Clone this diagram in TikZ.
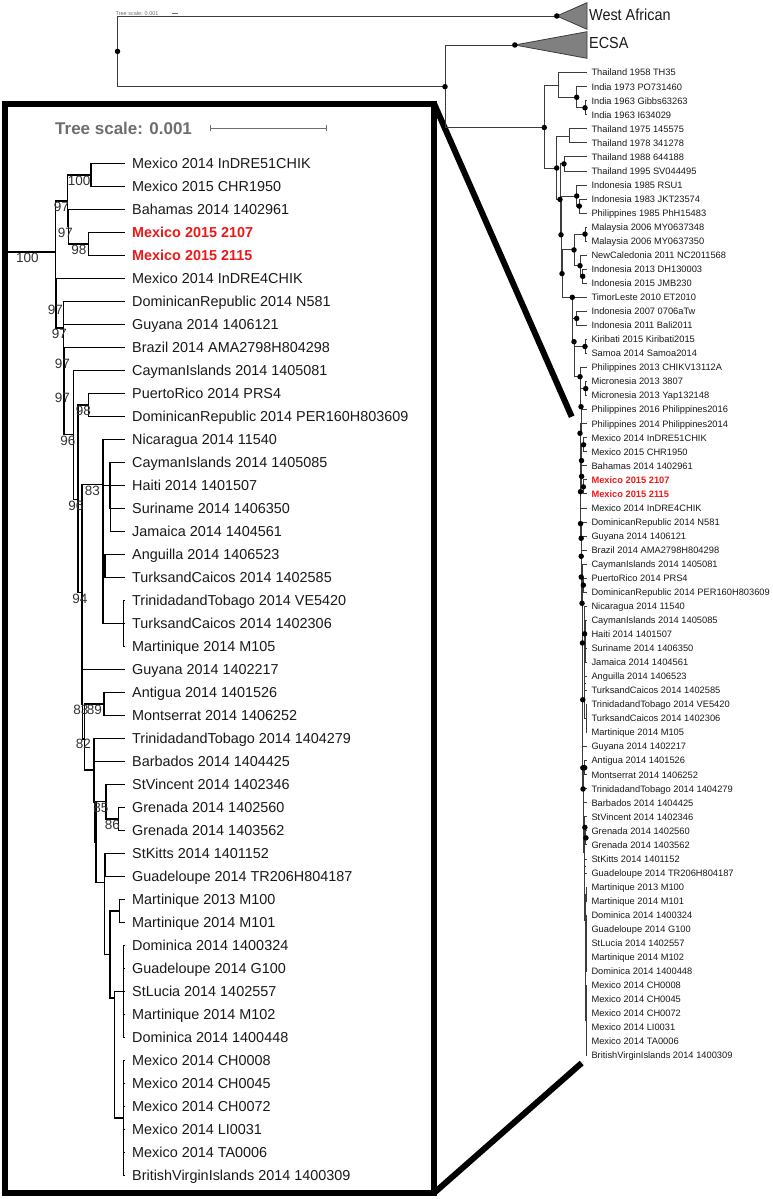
\documentclass[tikz,border=0pt]{standalone}
\usepackage{fontspec}
\setmainfont{Liberation Sans}
\definecolor{redlab}{RGB}{235,25,25}
\definecolor{scalegray}{RGB}{110,110,110}
\definecolor{rline}{RGB}{60,60,60}
\definecolor{txt}{RGB}{25,25,25}
\definecolor{suptxt}{RGB}{50,50,50}
\definecolor{trifill}{RGB}{128,128,128}

\def\AmList{Mexico 2014 InDRE51CHIK, Mexico 2015 CHR1950, Bahamas 2014 1402961, Mexico 2015 2107, Mexico 2015 2115, Mexico 2014 InDRE4CHIK, DominicanRepublic 2014 N581, Guyana 2014 1406121, Brazil 2014 AMA2798H804298, CaymanIslands 2014 1405081, PuertoRico 2014 PRS4, DominicanRepublic 2014 PER160H803609, Nicaragua 2014 11540, CaymanIslands 2014 1405085, Haiti 2014 1401507, Suriname 2014 1406350, Jamaica 2014 1404561, Anguilla 2014 1406523, TurksandCaicos 2014 1402585, TrinidadandTobago 2014 VE5420, TurksandCaicos 2014 1402306, Martinique 2014 M105, Guyana 2014 1402217, Antigua 2014 1401526, Montserrat 2014 1406252, TrinidadandTobago 2014 1404279, Barbados 2014 1404425, StVincent 2014 1402346, Grenada 2014 1402560, Grenada 2014 1403562, StKitts 2014 1401152, Guadeloupe 2014 TR206H804187, Martinique 2013 M100, Martinique 2014 M101, Dominica 2014 1400324, Guadeloupe 2014 G100, StLucia 2014 1402557, Martinique 2014 M102, Dominica 2014 1400448, Mexico 2014 CH0008, Mexico 2014 CH0045, Mexico 2014 CH0072, Mexico 2014 LI0031, Mexico 2014 TA0006, BritishVirginIslands 2014 1400309}

\def\AsList{Thailand 1958 TH35, India 1973 PO731460, India 1963 Gibbs63263, India 1963 I634029, Thailand 1975 145575, Thailand 1978 341278, Thailand 1988 644188, Thailand 1995 SV044495, Indonesia 1985 RSU1, Indonesia 1983 JKT23574, Philippines 1985 PhH15483, Malaysia 2006 MY0637348, Malaysia 2006 MY0637350, NewCaledonia 2011 NC2011568, Indonesia 2013 DH130003, Indonesia 2015 JMB230, TimorLeste 2010 ET2010, Indonesia 2007 0706aTw, Indonesia 2011 Bali2011, Kiribati 2015 Kiribati2015, Samoa 2014 Samoa2014, Philippines 2013 CHIKV13112A, Micronesia 2013 3807, Micronesia 2013 Yap132148, Philippines 2016 Philippines2016, Philippines 2014 Philippines2014}

\newcommand\AmCoords{%
  \foreach \i in {0,...,44}{\coordinate (L\i) at (125,{163.3+23*\i});}%
  \coordinate (a) at (91,174.8);
  \coordinate (c) at (88.3,243.8);
  \coordinate (Q) at (68.3,226.6);
  \coordinate (P1) at (67.3,200.7);
  \coordinate (N0) at (55.5,251.7);
  \coordinate (N1) at (56,304);
  \coordinate (N2) at (63.3,328);
  \coordinate (N3) at (63.5,357.5);
  \coordinate (N4) at (63.8,391.5);
  \coordinate (N5) at (73.3,434.5);
  \coordinate (c2) at (88.3,404.8);
  \coordinate (N6) at (78,499.5);
  \coordinate (N7) at (81.7,592.5);
  \coordinate (NC) at (103,484.5);
  \coordinate (H) at (110,485.3);
  \coordinate (H2) at (110.3,508.3);
  \coordinate (AT) at (105,565.8);
  \coordinate (TG) at (123.5,623.3);
  \coordinate (N8) at (82.5,704);
  \coordinate (N9) at (84.6,738.7);
  \coordinate (AMn) at (104,703.8);
  \coordinate (U) at (94,770);
  \coordinate (U2) at (94.3,801.7);
  \coordinate (T) at (96,842.1);
  \coordinate (V) at (106,801.6);
  \coordinate (G) at (118.3,818.8);
  \coordinate (T2) at (104.3,882.6);
  \coordinate (K) at (105,864.8);
  \coordinate (T3) at (110,954.4);
  \coordinate (W) at (119.3,910.8);
  \coordinate (T4) at (114.3,998);
  \coordinate (Z1) at (123.5,991.3);
  \coordinate (Z2) at (123.5,1117.8);
}

\newcommand\AmEdges[1]{%
  \foreach \pa/\ch in {a/L0,a/L1,c/L3,c/L4,Q/L2,Q/c,P1/a,P1/Q,N0/P1,N0/N1,N1/L5,N1/N2,N2/L6,N2/N3,N3/L7,N3/N4,N4/L8,N4/N5,N5/L9,N5/N6,c2/L10,c2/L11,N6/c2,N6/N7,N7/NC,N7/N8,NC/L12,NC/H,NC/AT,NC/TG,H/L13,H/H2,H2/L14,H2/L15,H2/L16,AT/L17,AT/L18,TG/L19,TG/L20,TG/L21,N8/L22,N8/N9,N9/AMn,N9/U,AMn/L23,AMn/L24,U/L25,U/U2,U2/L26,U2/T,T/V,T/T2,V/L27,V/G,G/L28,G/L29,T2/K,T2/T3,K/L30,K/L31,T3/W,T3/T4,W/L32,W/L33,T4/Z1,T4/Z2,Z1/L34,Z1/L35,Z1/L36,Z1/L37,Z1/L38,Z2/L39,Z2/L40,Z2/L41,Z2/L42,Z2/L43,Z2/L44}
    {\draw[#1] (\pa) |- (\ch);}%
}

\begin{document}
\begin{tikzpicture}[x=1pt,y=-1pt,
  ibr/.style={line width=1.6pt, black},
  rbr/.style={line width=0.9pt, rline},
  ilab/.style={anchor=base west, inner sep=0pt, text=txt, font=\fontsize{14.4}{16}\selectfont},
  rlab/.style={anchor=base west, inner sep=0pt, text=txt, font=\fontsize{9.3}{11}\selectfont},
  sup/.style={anchor=north, inner sep=0pt, text=suptxt, font=\fontsize{13.5}{15}\selectfont},
  rdot/.style={circle, fill=black, inner sep=0pt, minimum size=5.5pt},
  tri/.style={fill=trifill, draw=rline, line width=0.8pt},
  clade/.style={anchor=base west, inner sep=0pt, text=txt, font=\fontsize{16}{18}\selectfont, xscale=0.9}
]
\path[use as bounding box] (0,0) rectangle (773,1199);

% ---------------- inset tree ----------------
\AmCoords
\AmEdges{ibr}
\coordinate (stem) at (4.5,251.7);
\draw[ibr] (stem) -- (N0);

\foreach \lbl [count=\i from 0] in \AmList {
  \node[ilab] (il\i) at (132,{163.3+23*\i+5.2}) {\ifnum\i=3 \color{redlab}\bfseries\fi\ifnum\i=4 \color{redlab}\bfseries\fi\lbl};
}

\node[sup] (s0) at (27.5,253) {100};
\node[sup] (s1) at (61.4,201.7) {97};
\node[sup] (s2) at (79.2,175.8) {100};
\node[sup] (s3) at (65.5,227.6) {97};
\node[sup] (s4) at (79,244.8) {98};
\node[sup] (s5) at (55.5,305) {97};
\node[sup] (s6) at (59.5,329) {97};
\node[sup] (s7) at (62.5,358.5) {97};
\node[sup] (s8) at (62.5,392.5) {97};
\node[sup] (s9) at (67.8,435.5) {96};
\node[sup] (s10) at (83.3,405.8) {98};
\node[sup] (s11) at (75.8,500.5) {96};
\node[sup] (s12) at (80,593.5) {94};
\node[sup] (s13) at (92.5,485.5) {83};
\node[sup] (s14) at (81,705) {83};
\node[sup] (s15) at (94.3,704.8) {89};
\node[sup] (s16) at (83.3,739) {82};
\node[sup] (s17) at (101,802.6) {85};
\node[sup] (s18) at (112.5,819.8) {86};

% inset tree scale
\node[anchor=base west, inner sep=0pt, text=scalegray, font=\fontsize{17}{19}\selectfont\bfseries] (tsi) at (55,134) {Tree scale: 0.001};
\coordinate (sb1) at (210.5,128.3);
\coordinate (sb2) at (326.7,128.3);
\draw[scalegray, line width=0.9pt] (sb1) -- (sb2);
\draw[scalegray, line width=0.9pt] ([yshift=3pt]sb1) -- ([yshift=-3pt]sb1);
\draw[scalegray, line width=0.9pt] ([yshift=3pt]sb2) -- ([yshift=-3pt]sb2);

% inset box and zoom lines
\node[draw, line width=6pt, minimum width=429.5pt, minimum height=1089.5pt, inner sep=0pt, outer sep=0pt] (box) at (219.25,648.25) {};
\coordinate (zt) at (571.7,416.7);
\coordinate (zb) at (581.7,1063);
\draw[line width=6pt] (box.north east) -- (zt);
\draw[line width=6pt] (box.south east) -- (zb);

% ---------------- right (full) tree ----------------
\node[anchor=base west, inner sep=0pt, text=scalegray, font=\fontsize{5.5}{6}\selectfont] (tst) at (115.5,15.3) {Tree scale: 0.001};
\coordinate (ts1) at (171.8,13.3);
\coordinate (ts2) at (177.7,13.3);
\draw[scalegray, line width=0.4pt] (ts1) -- (ts2);

\coordinate (xR0) at (117.5,51.4);
\coordinate (xWA) at (556.8,16);
\coordinate (xNA) at (445,86.7);
\coordinate (xEC) at (514.8,45);
\coordinate (xAS) at (544.3,127.5);
\coordinate (xB) at (558.3,85);
\coordinate (xIN) at (576.7,97.3);
\coordinate (xIN2) at (585,107.8);
\coordinate (xC) at (556.7,168);
\coordinate (xT75) at (569.3,136.3);
\coordinate (xD) at (560,199.4);
\coordinate (xT88) at (564,163.9);
\coordinate (xD1) at (561,234.8);
\coordinate (xI85) at (576.7,196);
\coordinate (xI83) at (579.3,206.1);
\coordinate (xD2) at (562,273.6);
\coordinate (xF) at (574,249.9);
\coordinate (xMY) at (585,234.1);
\coordinate (xNCal) at (580,265.7);
\coordinate (xI13) at (582.7,276.3);
\coordinate (xE) at (572.3,297.3);
\coordinate (xI0711) at (576.7,318.4);
\coordinate (xE2) at (574,341.7);
\coordinate (xKS) at (585,346.5);
\coordinate (xE3) at (580,376.7);
\coordinate (xMI) at (585.7,388.6);
\coordinate (xE4) at (581,406.7);
\coordinate (xE5) at (580,433.3);
\foreach \i in {0,...,25}{\coordinate (RL\i) at (586.5,{72.7+14.04*\i});}

% collapsed clades
\coordinate (waT) at (587,2.7);
\coordinate (waB) at (587,29.3);
\coordinate (ecT) at (587,31.7);
\coordinate (ecB) at (587,58.3);
\draw[tri] (xWA) -- (waT) -- (waB) -- cycle;
\draw[tri] (xEC) -- (ecT) -- (ecB) -- cycle;
\node[clade] (lwa) at (589,20.7) {West African};
\node[clade] (lec) at (589,48.3) {ECSA};

% Americas clade, scaled copy
\begin{scope}[shift={(575.71,338.06)}, xscale=0.0863, yscale=0.61043, name prefix=r-]
  \AmCoords
  \AmEdges{rbr}
\end{scope}

\foreach \pa/\ch in {xR0/xWA,xR0/xNA,xNA/xEC,xNA/xAS,xAS/xB,xAS/xC,xB/RL0,xB/xIN,xIN/RL1,xIN/xIN2,xIN2/RL2,xIN2/RL3,xC/xT75,xC/xD,xT75/RL4,xT75/RL5,xD/xT88,xD/xD1,xT88/RL6,xT88/RL7,xD1/xI85,xD1/xD2,xI85/RL8,xI85/xI83,xI83/RL9,xI83/RL10,xD2/xF,xD2/xE,xF/xMY,xF/xNCal,xMY/RL11,xMY/RL12,xNCal/RL13,xNCal/xI13,xI13/RL14,xI13/RL15,xE/RL16,xE/xI0711,xE/xE2,xI0711/RL17,xI0711/RL18,xE2/xKS,xE2/xE3,xKS/RL19,xKS/RL20,xE3/RL21,xE3/xMI,xE3/xE4,xMI/RL22,xMI/RL23,xE4/RL24,xE4/xE5,xE5/RL25,xE5/r-N0}
  {\draw[rbr] (\pa) |- (\ch);}

\foreach \n in {xR0,xWA,xNA,xEC,xAS,xIN,xIN2,xC,xD,xT88,xD1,xI85,xI83,xD2,xF,xMY,xNCal,xI13,xE,xI0711,xE2,xKS,xE3,xMI,xE4,xE5}
  {\node[rdot] (d\n) at (\n) {};}
\foreach \n in {N0,P1,a,Q,c,N1,N2,N3,N4,N5,c2,N6,N7,NC,N8,N9,AMn,V,G}
  {\node[rdot] (dr\n) at (r-\n) {};}

\foreach \lbl [count=\i from 0] in \AsList {
  \node[rlab] (ra\i) at (591.3,{72.7+14.04*\i+3.3}) {\lbl};
}
\foreach \lbl [count=\i from 0] in \AmList {
  \node[rlab] (rl\i) at (591.3,{437.74+14.04*\i+3.3}) {\ifnum\i=3 \color{redlab}\bfseries\fi\ifnum\i=4 \color{redlab}\bfseries\fi\lbl};
}
\end{tikzpicture}
\end{document}
